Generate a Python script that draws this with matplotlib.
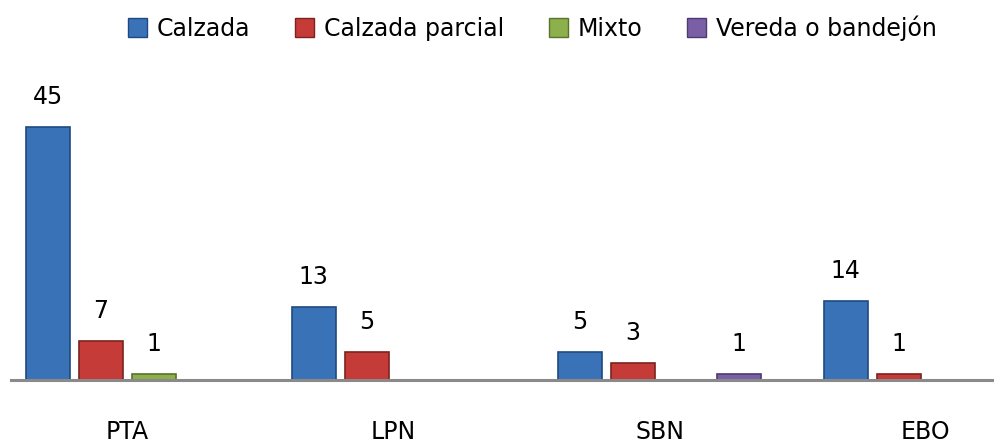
import numpy as np
import matplotlib
matplotlib.use("Agg")
import matplotlib.pyplot as plt
from matplotlib.patches import Patch

categories = ["PTA", "LPN", "SBN", "EBO"]
series = ["Calzada", "Calzada parcial", "Mixto", "Vereda o bandejón"]
calzada = [45, 13, 5, 14]
calzada_parcial = [7, 5, 3, 1]
mixto = [1, 0, 0, 0]
vereda = [0, 0, 1, 0]

values = [calzada, calzada_parcial, mixto, vereda]
colors = ["#3a72b8", "#c43b38", "#8db04c", "#7b5fa6"]
edges = ["#1f4a80", "#7e2220", "#58732a", "#4d3a70"]

plt.rcParams['font.family'] = ['DejaVu Sans']

fig = plt.figure(figsize=(9.95, 4.46), dpi=100)
ax = fig.add_axes([11 / 995, 1 - 380 / 446, 1 - 11 / 995, 320 / 446])

x = np.arange(len(categories))
slot = 0.2
width = 0.165
for i, (vals, c, e) in enumerate(zip(values, colors, edges)):
    pos = x + (i - 1.5) * slot
    bars = ax.bar(pos, vals, width=width, color=c, edgecolor=e, linewidth=1.2,
                  zorder=2)
    labels = [str(v) if v else "" for v in vals]
    ax.bar_label(bars, labels=labels, padding=13, fontsize=17)

ax.set_xlim(-0.438, 3.261)
ax.set_ylim(0, 57)
ax.set_yticks([])
ax.set_xticks(x, categories)
ax.tick_params(axis='x', length=0, pad=29, labelsize=17)
for s in ["top", "left", "right"]:
    ax.spines[s].set_visible(False)
ax.spines["bottom"].set_color("#8a8a8a")
ax.spines["bottom"].set_linewidth(2.2)
ax.spines["bottom"].set_zorder(3)

handles = [Patch(facecolor=c, edgecolor=e) for c, e in zip(colors, edges)]
fig.legend(handles, series, loc="center", bbox_to_anchor=(0.535, 0.937),
           ncol=4, frameon=False, fontsize=17, handlelength=0.8,
           handleheight=0.85, handletextpad=0.42, columnspacing=1.9)

fig.savefig("out.png", dpi=100)
